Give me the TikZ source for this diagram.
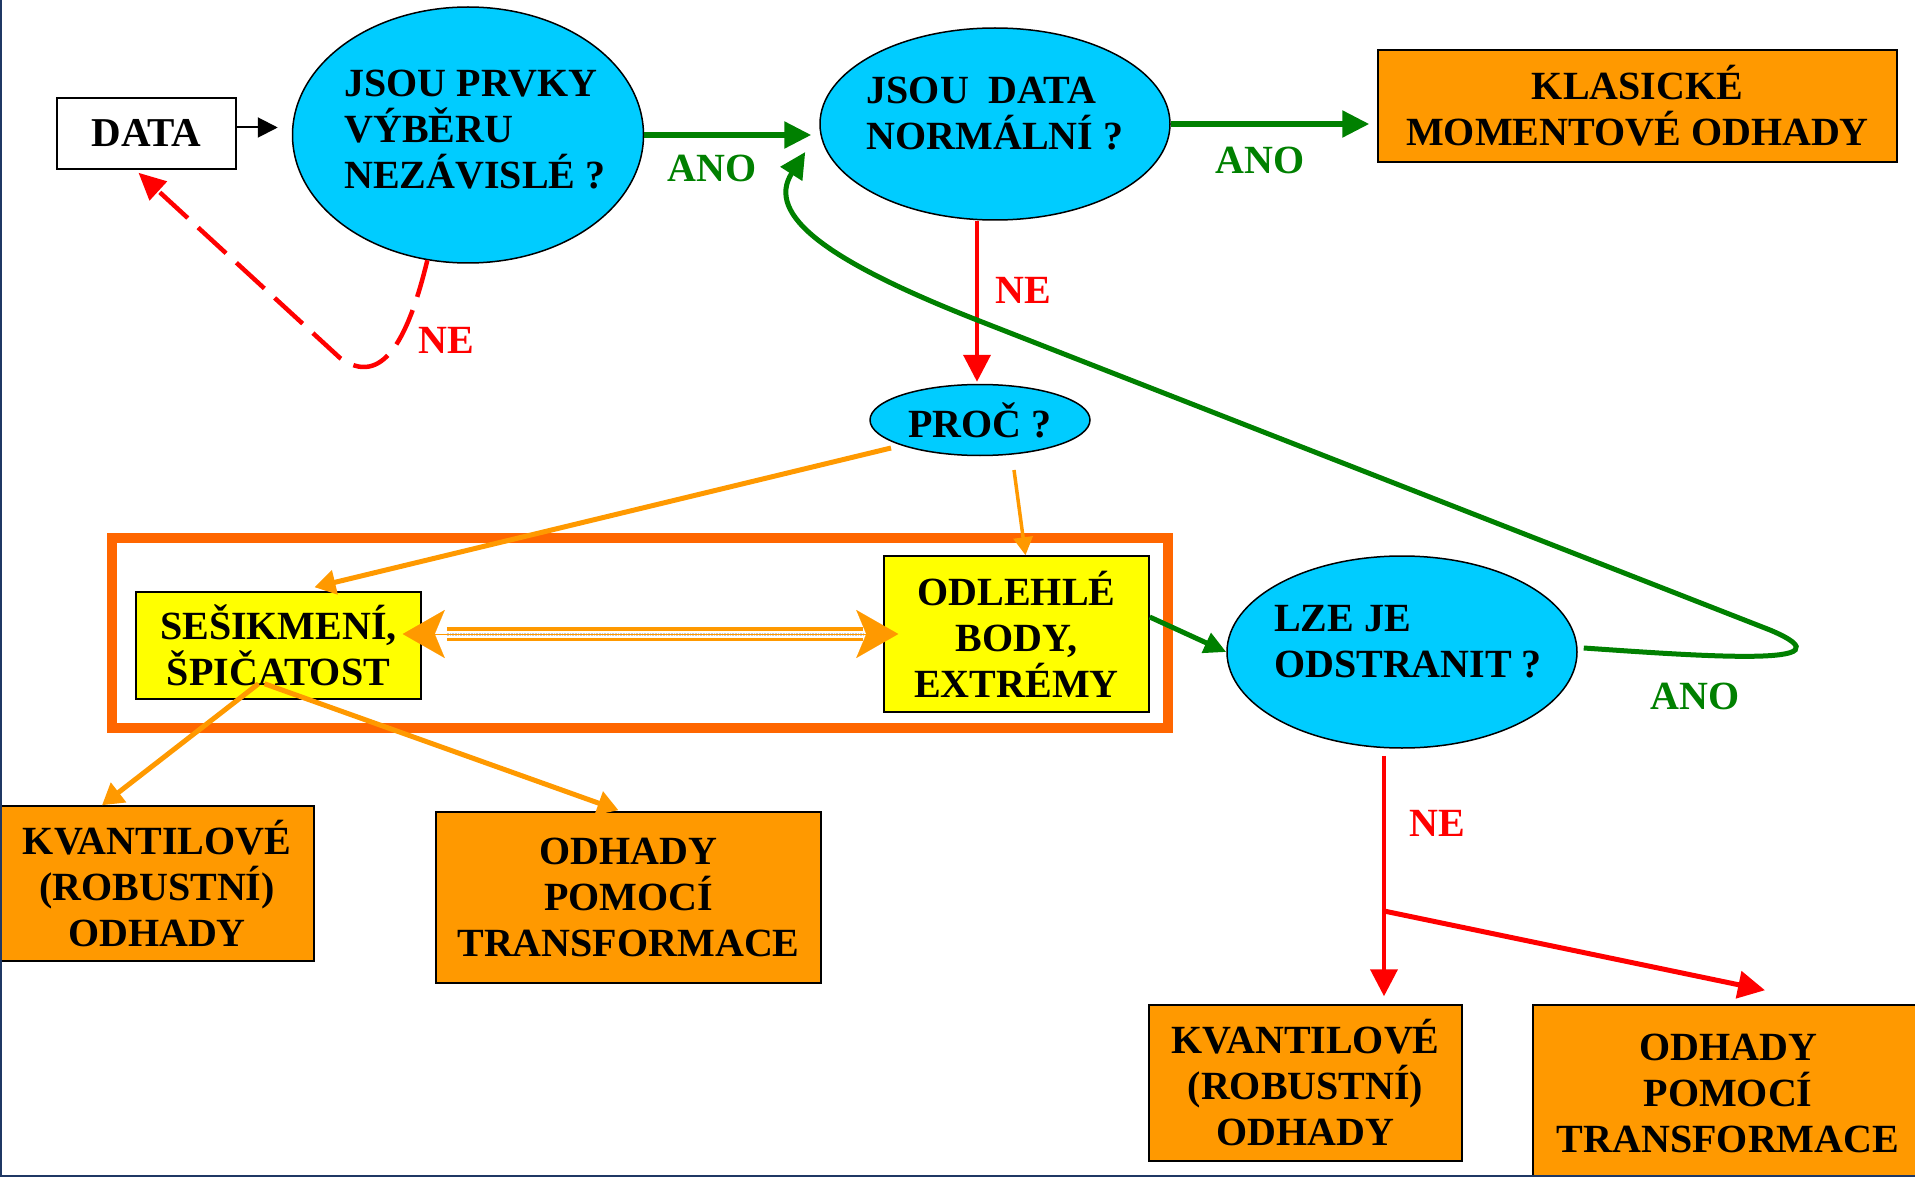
\documentclass[tikz,border=0pt]{standalone}
\usepackage{fontspec}
\setmainfont{Liberation Serif}
\usetikzlibrary{arrows.meta,shapes.geometric}
\definecolor{cyanfill}{HTML}{00CCFF}
\definecolor{boxorange}{HTML}{FF9900}
\definecolor{frameorange}{HTML}{FF6600}
\definecolor{yel}{HTML}{FFFF00}
\definecolor{grn}{HTML}{008000}
\definecolor{rd}{HTML}{FF0000}
\definecolor{navy}{HTML}{1F3864}
\begin{document}
\begin{tikzpicture}[x=1pt,y=-1pt,
  bigfont/.style={font=\fontsize{40}{46}\selectfont\bfseries},
  txt/.style={bigfont, align=left, inner sep=0pt},
  qell/.style={ellipse, draw=black, line width=1.5pt, fill=cyanfill, inner sep=0pt},
  obox/.style={rectangle, draw=black, line width=1.5pt, fill=boxorange, inner sep=0pt, bigfont, align=center},
  ybox/.style={rectangle, draw=black, line width=1.5pt, fill=yel, inner sep=0pt, bigfont, align=center},
  lbl/.style={bigfont, inner sep=0pt},
  garrow/.style={draw=grn, line width=5.5pt, -{Triangle[length=27pt,width=26pt]}},
  rarrow/.style={draw=rd, line width=4pt, -{Triangle[length=27pt,width=27pt]}},
  oarrow/.style={draw=boxorange, line width=5pt, -{Triangle[length=21pt,width=24pt]}},
]
\useasboundingbox (0,0) rectangle (1915,1177);

% frame around the two causes
\node[draw=frameorange, line width=10pt, minimum width=1056pt, minimum height=190pt, inner sep=0pt] (frame) at (640,633) {};

% nodes
\node[draw=black, line width=1.5pt, fill=white, minimum width=179pt, minimum height=71pt, inner sep=0pt, font=\fontsize{41}{46}\selectfont\bfseries] (data) at (146.5,133.5) {DATA};

\node[qell, minimum width=351pt, minimum height=256pt] (e1) at (468,135) {};
\node[txt] (e1t) at (475,130) {JSOU PRVKY\\VÝBĚRU\\NEZÁVISLÉ ?};

\node[qell, minimum width=350pt, minimum height=192pt] (e2) at (995,124) {};
\node[txt] (e2t) at (995,114) {JSOU\ \ DATA\\NORMÁLNÍ ?};

\node[obox, minimum width=519pt, minimum height=112pt] (klas) at (1637.5,106) {KLASICKÉ\\MOMENTOVÉ ODHADY};

\node[qell, minimum width=220pt, minimum height=71pt, bigfont] (proc) at (980,420) {PROČ ?};

\node[ybox, minimum width=285pt, minimum height=107pt] (sesi) at (278.5,645.5) {SEŠIKMENÍ,\\ŠPIČATOST};
\node[ybox, minimum width=265pt, minimum height=156pt] (odl) at (1016.5,634) {ODLEHLÉ\\BODY,\\EXTRÉMY};

\node[qell, minimum width=350pt, minimum height=192pt] (odst) at (1402,652) {};
\node[txt] (odstt) at (1408,642) {LZE JE\\ODSTRANIT ?};

\node[obox, minimum width=314pt, minimum height=155pt] (kv1) at (157,883.5) {KVANTILOVÉ\\(ROBUSTNÍ)\\ODHADY};
\node[obox, minimum width=385pt, minimum height=171pt] (od1) at (628.5,897.5) {ODHADY\\POMOCÍ\\TRANSFORMACE};
\node[obox, minimum width=313pt, minimum height=156pt] (kv2) at (1305.5,1083) {KVANTILOVÉ\\(ROBUSTNÍ)\\ODHADY};
\node[obox, minimum width=390pt, minimum height=176pt] (od2) at (1728,1093) {ODHADY\\POMOCÍ\\TRANSFORMACE};

% labels
\node[lbl, text=grn] (ano1) at (712,168) {ANO};
\node[lbl, text=grn] (ano2) at (1260,160) {ANO};
\node[lbl, text=grn] (ano3) at (1695,696) {ANO};
\node[lbl, text=rd] (ne1) at (446,340) {NE};
\node[lbl, text=rd] (ne2) at (1023,290) {NE};
\node[lbl, text=rd] (ne3) at (1437,823) {NE};

% connectors
\draw[black, line width=2pt, -{Triangle[length=20pt,width=20pt]}, shorten >=14pt]
  ([yshift=6pt]data.east) -- ([yshift=6pt]data.east -| e1.west);

\draw[rd, line width=4.5pt, dash pattern=on 38pt off 14pt, -{Triangle[length=27pt,width=25pt]}]
  (e1.252) .. controls (408,340) and (382,388) .. (340,358) -- ([xshift=-8pt,yshift=-3pt]data.south);

\draw[garrow, shorten >=8pt] (e1.east) -- (e1.east -| e2.west);
\draw[garrow, shorten >=8pt] (e2.east) -- (e2.east -| klas.west);

\draw[rarrow] ([xshift=-3pt]proc.north |- e2.south) -- ([xshift=-3pt,yshift=2pt]proc.north);

\draw[oarrow] ([xshift=-89pt,yshift=-28pt]proc.center) -- ([xshift=36pt,yshift=4pt]sesi.north);
\draw[draw=boxorange, line width=3.5pt, -{Triangle[length=18pt,width=19pt]}]
  ([xshift=34pt,yshift=-50pt]proc.center) -- ([xshift=9pt]odl.north);

% double arrow between causes
\draw[boxorange, line width=3.5pt, double=white, double distance=7pt]
  ([xshift=25pt]sesi.east |- odl.west) -- ([xshift=-20pt]odl.west);
\draw[gray!40, line width=3pt, dash pattern=on 0.8pt off 0.8pt]
  ([xshift=25pt]sesi.east |- odl.west) -- ([xshift=-20pt]odl.west);
\draw[draw=boxorange, fill=boxorange, line width=0.1pt,
  {Stealth[length=42pt,width=48pt,inset=10pt]}-{Stealth[length=42pt,width=48pt,inset=10pt]},
  shorten <=-19pt, shorten >=-15pt]
  (sesi.east |- odl.west) -- (odl.west);

\draw[oarrow] ([xshift=-20pt,yshift=16pt]sesi.south) -- ([xshift=-55pt]kv1.north);
\draw[oarrow] ([xshift=-14pt,yshift=16pt]sesi.south) -- ([xshift=-10pt,yshift=1pt]od1.north);

\draw[draw=grn, line width=5pt, -{Triangle[length=22pt,width=21pt]}]
  ([yshift=17pt]odl.east) -- (odst.west);

\draw[draw=grn, line width=5pt, -{Triangle[length=26pt,width=25pt]}]
  ([xshift=6pt,yshift=4pt]odst.east) .. controls (1700,656) and (1860,668) .. (1770,630)
  -- (977,320) .. controls (827,261) and (765,215) .. ([xshift=-14pt,yshift=-28pt]e2.west);

\coordinate (nb) at (1384,911);
\draw[rarrow] (odst.south -| nb) ++(0,7) -- ([yshift=8pt]nb |- kv2.north);
\draw[rarrow, line width=5pt] (nb) -- ([xshift=37pt,yshift=14pt]od2.north);

% page border
\draw[navy, line width=2pt] (1,0) -- (1,1176) -- (1915,1176);
\end{tikzpicture}
\end{document}
